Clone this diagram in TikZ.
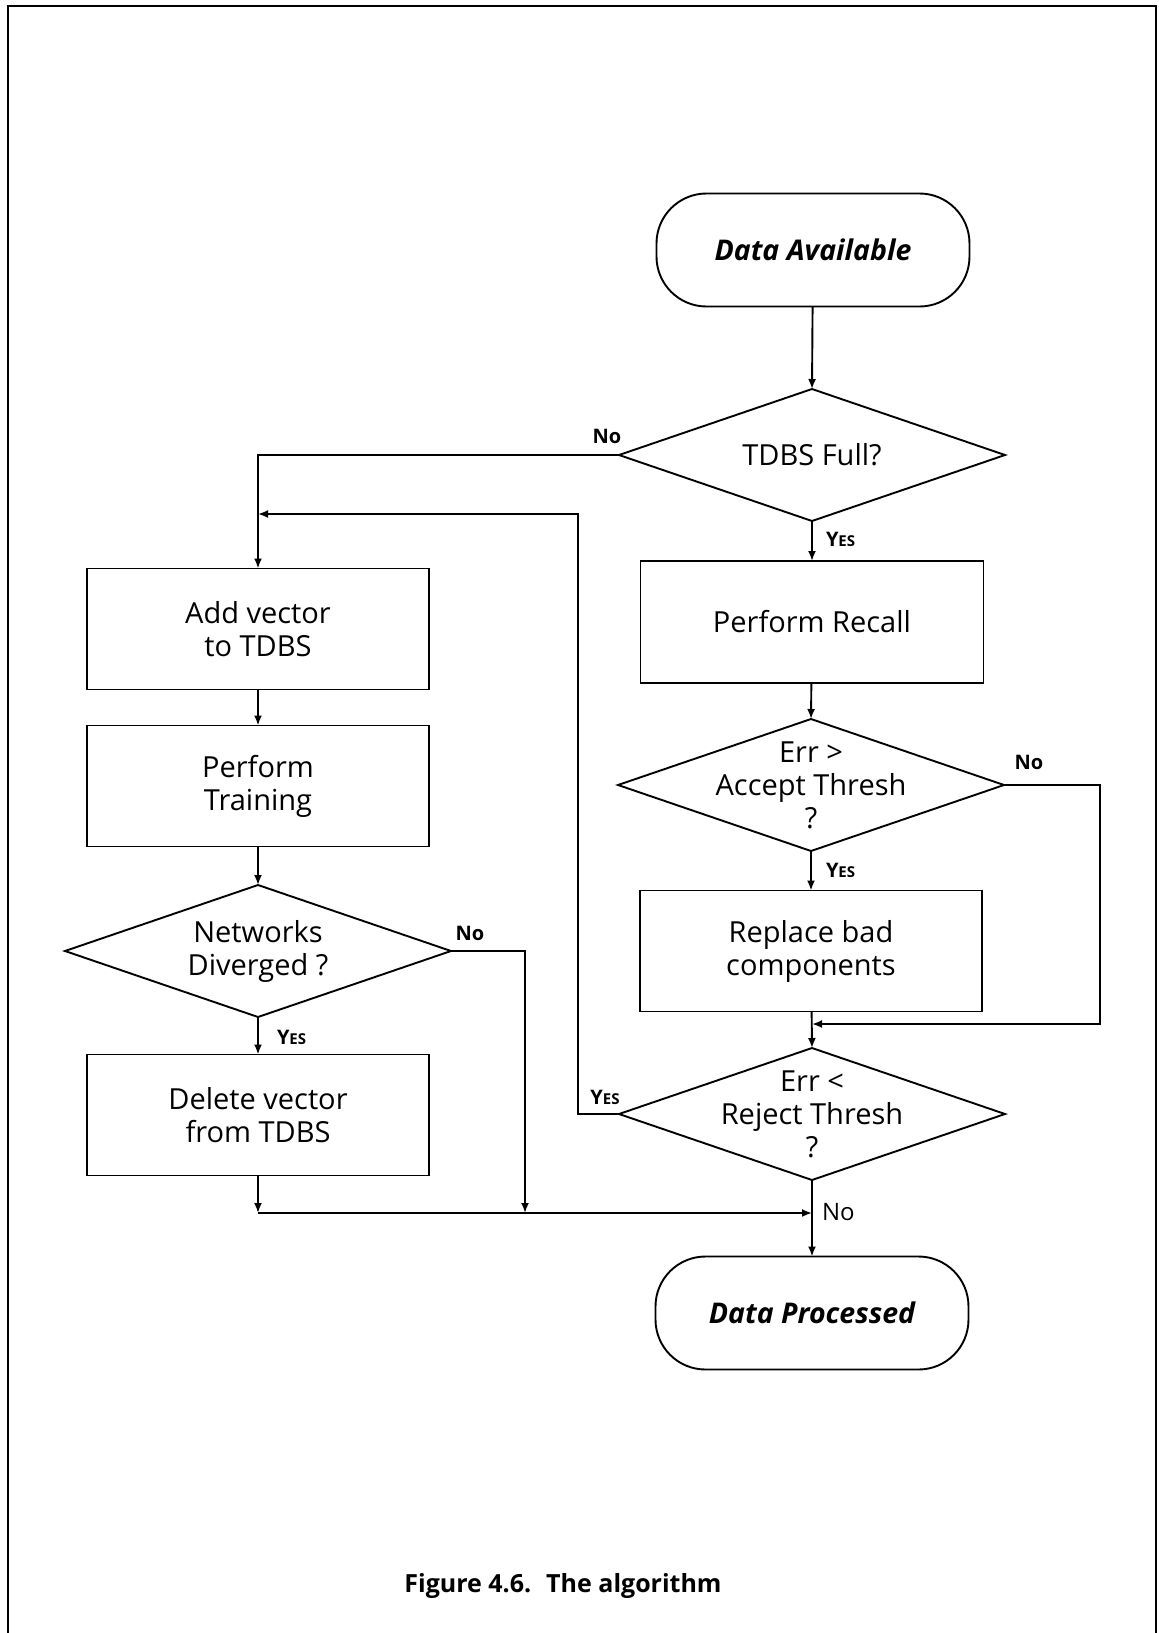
\documentclass[tikz,border=0pt]{standalone}
\usepackage{fontspec}
\setmainfont{Open Sans}
\usetikzlibrary{shapes.geometric,arrows.meta}
\newcommand{\capsES}{{\fontsize{15}{15}\selectfont ES}}

\begin{document}
\begin{tikzpicture}[x=1pt,y=-1pt,
  line width=1.9pt,
  every node/.style={inner sep=0pt, outer sep=0pt},
  body/.style={font=\fontsize{29}{33}\selectfont, align=center},
  proc/.style={draw, rectangle, body, minimum width=342pt, minimum height=121pt},
  term/.style={draw, rectangle, rounded corners=50pt, minimum width=313pt,
    minimum height=113pt, font=\fontsize{28.5}{32}\selectfont\bfseries\itshape},
  dec/.style={draw, diamond, minimum width=386pt, minimum height=132pt},
  flow/.style={-{Latex[length=10pt,width=8pt]}},
  tag/.style={font=\fontsize{20}{20}\selectfont\bfseries},
]
\useasboundingbox (0,0) rectangle (1159,1633);

% page frame (open at the bottom)
\draw (8,1633) -- (8,6) -- (1156,6) -- (1156,1633);

% right column
\node[term] (da) at (813,250) {Data Available};
\node[dec, label={[body]center:{TDBS Full?}}] (tdbs) at (812,455) {};
\node[proc, minimum width=343pt, minimum height=122pt] (recall) at (812,622) {Perform Recall};
\node[dec, label={[body]center:{Err >\\Accept Thresh\\?}}] (accept) at (811,785) {};
\node[proc] (replace) at (811,951) {Replace bad\\components};
\node[dec, label={[body]center:{Err <\\Reject Thresh\\?}}] (reject) at (812,1114) {};
\node[term] (dp) at (812,1313) {Data Processed};

% left column
\node[proc] (add) at (258,629) {Add vector\\to TDBS};
\node[proc] (train) at (258,786) {Perform\\Training};
\node[dec, label={[body]center:{Networks\\Diverged ?}}] (div) at (258,951) {};
\node[proc] (del) at (258,1115) {Delete vector\\from TDBS};

% routing points
\coordinate (noL) at (258,455);
\coordinate (loopIn) at (258,514);
\coordinate (loopTop) at (578,514);
\coordinate (loopBot) at (578,1114);
\coordinate (accR) at (1100,785);
\coordinate (accB) at (1100,1024);
\coordinate (accJ) at (812,1024);
\coordinate (divR) at (525,951);
\coordinate (divB) at (525,1213);
\coordinate (botL) at (258,1213);
\coordinate (botJ) at (812,1213);

% connectors
\draw[flow] (da) -- (tdbs.north);
\draw[flow] (tdbs.south) -- (recall.north);
\draw[flow] (tdbs.west) -- (noL) -- (add.north);
\draw[flow] (recall) -- (accept.north);
\draw[flow] (accept.south) -- (replace.north);
\draw[flow] (accept.east) -- (accR) -- (accB) -- (accJ);
\draw[flow] (replace) -- (reject.north);
\draw[flow] (reject.west) -- (loopBot) -- (loopTop) -- (loopIn);
\draw[flow] (reject.south) -- (dp.north);
\draw[flow] (add) -- (train);
\draw[flow] (train) -- (div.north);
\draw[flow] (div.south) -- (del.north);
\draw[flow] (div.east) -- (divR) -- (divB);
\draw[flow] (del) -- (botL);
\draw[flow] (botL) -- (botJ);

% branch labels
\node[tag] (noTdbs) at (607,436) {No};
\node[tag, anchor=west] (yesTdbs) at (826,539) {Y\capsES};
\node[tag] (noAcc) at (1029,762) {No};
\node[tag, anchor=west] (yesAcc) at (826,870) {Y\capsES};
\node[tag] (noDiv) at (470,933) {No};
\node[tag, anchor=west] (yesDiv) at (277,1037) {Y\capsES};
\node[tag] (yesRej) at (605,1097) {Y\capsES};
\node[font=\fontsize{24}{24}\selectfont, anchor=west] (noRej) at (822,1212) {No};

% caption
\node[font=\fontsize{25}{25}\selectfont\bfseries, anchor=base] (caption) at (563,1592)
  {Figure 4.6.\hspace{15pt}The algorithm};
\end{tikzpicture}
\end{document}
